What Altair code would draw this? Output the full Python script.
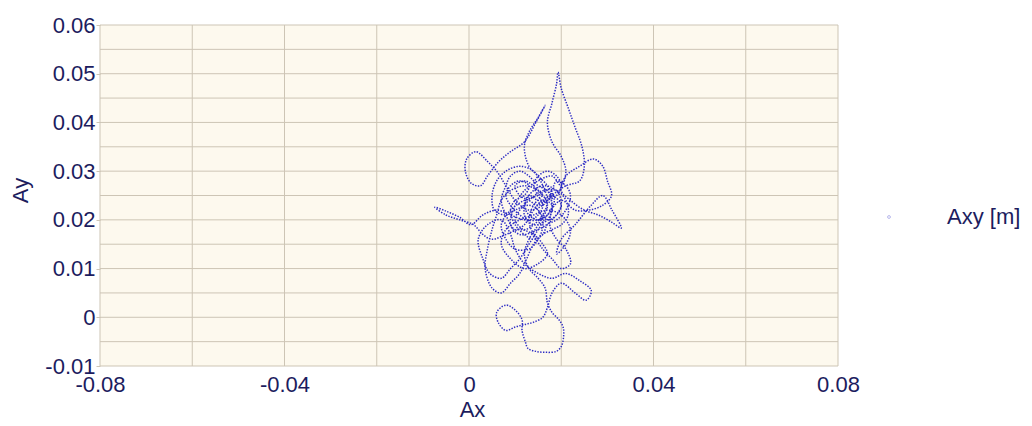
import altair as alt
import pandas as pd

# Trajectory of the centre of pressure (metres)
ax = [0.014, 0.016, 0.018, 0.017, 0.014, 0.012, 0.013, 0.016, 0.019, 0.020,
      0.018, 0.015, 0.011, 0.009, 0.010, 0.012, 0.015, 0.018, 0.020,
      0.021, 0.020, 0.018, 0.017, 0.018, 0.019, 0.0193, 0.020, 0.0215, 0.023,
      0.0245, 0.025, 0.024, 0.021,
      0.018, 0.016, 0.013, 0.010, 0.008, 0.006, 0.004, 0.0015, -0.0005, -0.0008,
      0.0005, 0.0025, 0.004, 0.0065, 0.009, 0.012, 0.0145, 0.0165, 0.015, 0.013,
      0.012, 0.013, 0.015, 0.017, 0.0185, 0.017, 0.015,
      0.012, 0.009, 0.006, 0.003, 0.0004, -0.002, -0.005, -0.0074, -0.005, -0.002,
      0.001, 0.003, 0.005, 0.008, 0.011, 0.014, 0.016, 0.017, 0.015, 0.012,
      0.009, 0.007, 0.008, 0.011, 0.014, 0.017, 0.020, 0.022, 0.021, 0.019,
      0.020, 0.023, 0.0265, 0.029, 0.031, 0.033, 0.031, 0.028, 0.025, 0.022,
      0.020, 0.021, 0.024, 0.027, 0.029, 0.030, 0.0309, 0.029, 0.026, 0.023,
      0.020,
      0.017, 0.015, 0.013, 0.011, 0.009, 0.007, 0.0045, 0.003, 0.002, 0.004,
      0.007, 0.009, 0.010, 0.012, 0.015, 0.018, 0.021, 0.024, 0.0265, 0.0254,
      0.023, 0.020, 0.018, 0.017, 0.016, 0.014, 0.012, 0.010, 0.008, 0.0063,
      0.006, 0.008, 0.010, 0.0115, 0.0115, 0.0122, 0.0128, 0.0145, 0.0167, 0.0189,
      0.020, 0.0205, 0.0204, 0.0195, 0.018, 0.017, 0.0165, 0.015, 0.013, 0.012,
      0.013, 0.015,
      0.017, 0.015, 0.012, 0.009, 0.007, 0.006, 0.005, 0.004, 0.0035, 0.005,
      0.007, 0.009, 0.011, 0.0125, 0.014, 0.016, 0.018, 0.020, 0.0215, 0.021,
      0.019, 0.016, 0.013, 0.011, 0.010, 0.012, 0.014, 0.016, 0.017, 0.016,
      0.014, 0.011, 0.008, 0.006, 0.005, 0.0055, 0.008, 0.010, 0.013, 0.015,
      0.016, 0.015, 0.013, 0.010, 0.008, 0.007, 0.009, 0.012, 0.015, 0.017,
      0.018, 0.0175, 0.019, 0.021, 0.022, 0.020, 0.018, 0.016, 0.014, 0.013,
      0.014, 0.016,
      0.016, 0.014, 0.012, 0.010, 0.011, 0.013, 0.015, 0.017, 0.019, 0.020,
      0.019, 0.017, 0.015, 0.014, 0.015, 0.016, 0.015, 0.013, 0.011, 0.009,
      0.008, 0.009, 0.011, 0.013, 0.012, 0.010, 0.009, 0.010, 0.012, 0.014,
      0.016, 0.017, 0.019, 0.021, 0.022, 0.021, 0.019, 0.018, 0.017, 0.015,
      0.013, 0.012, 0.013, 0.015, 0.017, 0.018, 0.017, 0.015, 0.013, 0.011,
      0.009, 0.008, 0.007, 0.008, 0.010, 0.012, 0.014, 0.016, 0.018, 0.020,
      0.019, 0.017, 0.015]
ay = [0.022, 0.024, 0.023, 0.020, 0.019, 0.021, 0.025, 0.027, 0.026, 0.023,
      0.020, 0.018, 0.017, 0.019, 0.023, 0.026, 0.028, 0.029, 0.027,
      0.030, 0.033, 0.036, 0.040, 0.044, 0.048, 0.0503, 0.047, 0.043, 0.039,
      0.035, 0.031, 0.028, 0.027,
      0.025, 0.023, 0.022, 0.024, 0.027, 0.030, 0.032, 0.034, 0.0325, 0.030,
      0.0275, 0.027, 0.029, 0.032, 0.034, 0.036, 0.040, 0.0435, 0.041, 0.038,
      0.035, 0.031, 0.029, 0.027, 0.024, 0.021, 0.020,
      0.020, 0.021, 0.022, 0.021, 0.019, 0.0205, 0.0218, 0.0226, 0.021, 0.020,
      0.019, 0.017, 0.016, 0.017, 0.018, 0.017, 0.015, 0.013, 0.011, 0.010,
      0.012, 0.015, 0.018, 0.020, 0.021, 0.022, 0.021, 0.018, 0.015, 0.013,
      0.016, 0.019, 0.023, 0.025, 0.022, 0.0183, 0.0195, 0.021, 0.022, 0.024,
      0.026, 0.029, 0.031, 0.0325, 0.031, 0.028, 0.025, 0.023, 0.022, 0.022,
      0.024,
      0.021, 0.018, 0.015, 0.012, 0.010, 0.008, 0.009, 0.012, 0.016, 0.019,
      0.020, 0.017, 0.014, 0.011, 0.009, 0.008, 0.009, 0.0075, 0.0055, 0.0035,
      0.005, 0.007, 0.005, 0.002, 0.000, -0.001, -0.0015, -0.002, -0.0027, -0.001,
      0.001, 0.0025, 0.0015, -0.0005, -0.0027, -0.005, -0.0064, -0.007, -0.0072, -0.007,
      -0.006, -0.004, -0.002, -0.0005, 0.001, 0.003, 0.006, 0.008, 0.010, 0.013,
      0.016, 0.019,
      0.023, 0.026, 0.027, 0.026, 0.024, 0.021, 0.018, 0.014, 0.010, 0.006,
      0.005, 0.007, 0.009, 0.012, 0.015, 0.017, 0.018, 0.019, 0.021, 0.024,
      0.026, 0.026, 0.024, 0.022, 0.020, 0.018, 0.019, 0.021, 0.024, 0.027,
      0.030, 0.031, 0.030, 0.028, 0.025, 0.022, 0.021, 0.022, 0.023, 0.022,
      0.019, 0.016, 0.014, 0.014, 0.016, 0.019, 0.022, 0.024, 0.025, 0.026,
      0.023, 0.019, 0.016, 0.014, 0.011, 0.010, 0.012, 0.014, 0.017, 0.020,
      0.023, 0.025,
      0.025, 0.027, 0.028, 0.027, 0.025, 0.024, 0.023, 0.024, 0.025, 0.027,
      0.029, 0.030, 0.029, 0.027, 0.025, 0.023, 0.021, 0.020, 0.021, 0.023,
      0.025, 0.027, 0.028, 0.027, 0.025, 0.024, 0.022, 0.019, 0.017, 0.016,
      0.017, 0.019, 0.020, 0.022, 0.025, 0.027, 0.028, 0.026, 0.024, 0.024,
      0.025, 0.023, 0.021, 0.020, 0.021, 0.023, 0.026, 0.027, 0.029, 0.030,
      0.029, 0.027, 0.024, 0.021, 0.018, 0.019, 0.022, 0.024, 0.025, 0.023,
      0.021, 0.020, 0.022]

x_grid = [-0.08, -0.06, -0.04, -0.02, 0, 0.02, 0.04, 0.06, 0.08]
y_grid = [-0.01, -0.005, 0, 0.005, 0.01, 0.015, 0.02, 0.025, 0.03,
          0.035, 0.04, 0.045, 0.05, 0.055, 0.06]
x_labels = [-0.08, -0.04, 0, 0.04, 0.08]
y_labels = [-0.01, 0, 0.01, 0.02, 0.03, 0.04, 0.05, 0.06]
series_name = "Axy [m]"

df = pd.DataFrame({"Ax": ax, "Ay": ay, "i": list(range(len(ax))),
                   "s": [series_name] * len(ax)})

FONT = "Liberation Sans"
TXT = "#1c1c5e"
GRID = "#cdc5b5"
FS = 22

xs = alt.Scale(domain=[-0.08, 0.08], nice=False, zero=False)
ys = alt.Scale(domain=[-0.01, 0.06], nice=False, zero=False)

x_axis = alt.Axis(
    values=x_labels, labelExpr="datum.value + ''", grid=False, domain=False,
    ticks=False, labelFlush=False, labelOverlap=False, labelFontSize=FS,
    labelColor=TXT, labelFont=FONT, labelPadding=8,
    title="Ax", titleFontSize=FS, titleFontWeight="normal", titleColor=TXT,
    titleFont=FONT, titleX=372, titleY=43, titleBaseline="middle")
y_axis = alt.Axis(
    values=y_labels, labelExpr="datum.value + ''", grid=False, domain=False,
    ticks=True, tickSize=4, tickColor=GRID, labelFlush=False, labelOverlap=False,
    labelFontSize=FS, labelColor=TXT, labelFont=FONT, labelPadding=1,
    title="Ay", titleFontSize=FS, titleFontWeight="normal", titleColor=TXT,
    titleFont=FONT, titleX=-80, titleY=165, titleBaseline="middle")

vgrid = alt.Chart(pd.DataFrame({"v": x_grid})).mark_rule(
    color=GRID, strokeWidth=1).encode(x=alt.X("v:Q", scale=xs, axis=x_axis))
hgrid = alt.Chart(pd.DataFrame({"v": y_grid})).mark_rule(
    color=GRID, strokeWidth=1).encode(y=alt.Y("v:Q", scale=ys, axis=y_axis))

line = alt.Chart(df).mark_line(
    strokeWidth=1.5, strokeDash=[1.4, 1.4], interpolate="catmull-rom", opacity=0.9
).encode(
    x=alt.X("Ax:Q", scale=xs, axis=x_axis),
    y=alt.Y("Ay:Q", scale=ys, axis=y_axis),
    order="i:Q",
    color=alt.Color("s:N", scale=alt.Scale(range=["#1616c0"]), legend=alt.Legend(
        title=None, orient="none", legendX=778, legendY=181, symbolType="circle",
        symbolSize=8, symbolOpacity=0.3, symbolStrokeWidth=1, labelOffset=47,
        labelFontSize=FS, labelColor=TXT, labelFont=FONT)),
)

chart = alt.layer(vgrid, hgrid, line).properties(
    width=738, height=341,
    autosize=alt.AutoSizeParams(type="none"),
    padding={"left": 92, "top": 17, "right": 186, "bottom": 58},
    background="white",
).configure_view(fill="#fdf9ee", stroke=None)

chart.save("out.html", embed_options={"renderer": "svg", "actions": False})
